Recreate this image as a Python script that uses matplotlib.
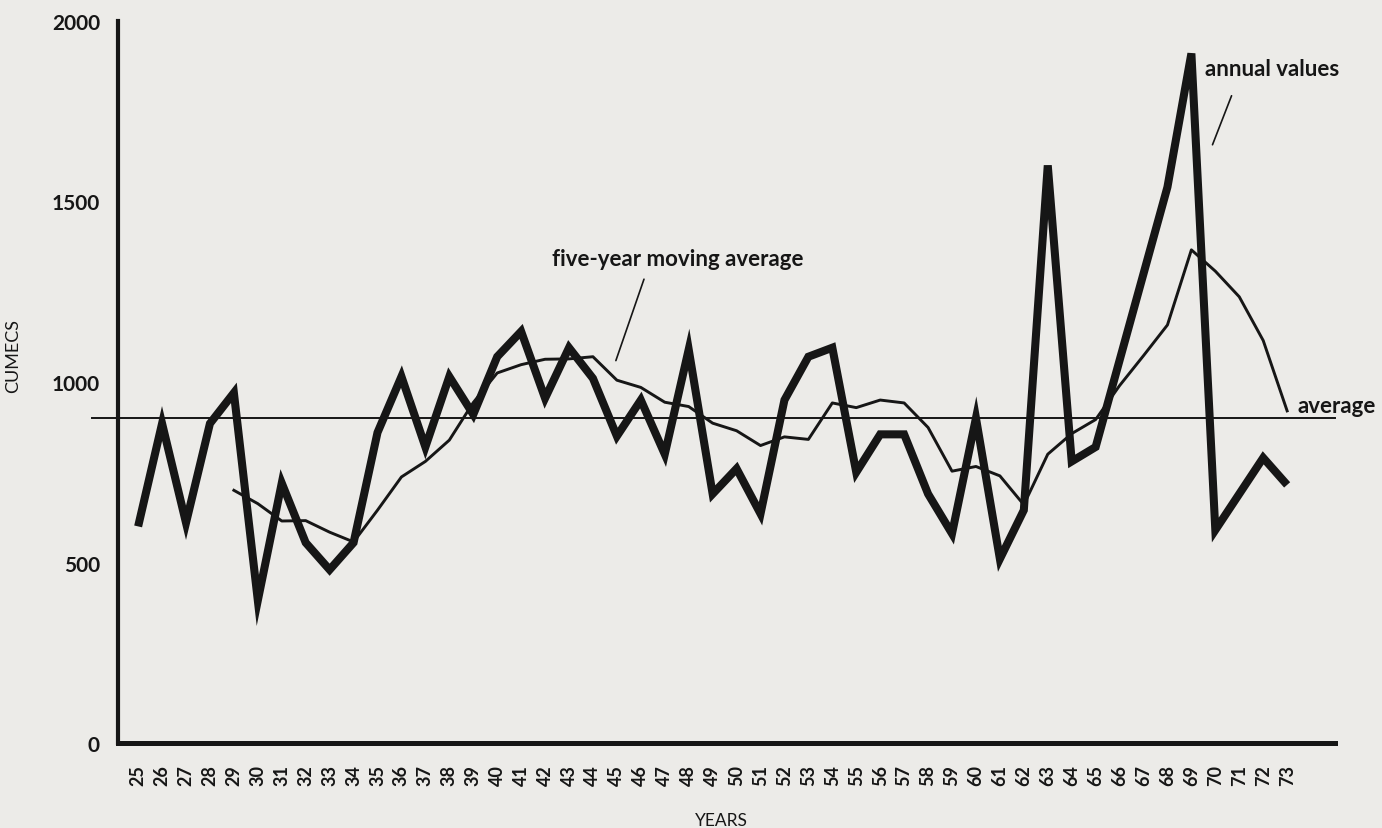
import numpy as np
import matplotlib
matplotlib.use("Agg")
import matplotlib.pyplot as plt

# Annual peak discharge (cumecs), years 1925-1973
years = list(range(25, 74))
annual = [600, 885, 610, 885, 970, 395, 720, 555, 480, 555,
          860, 1015, 820, 1015, 910, 1070, 1140, 955, 1095, 1010,
          850, 950, 800, 1090, 690, 760, 635, 950, 1070, 1095,
          750, 855, 855, 690, 580, 900, 510, 645, 1600, 780,
          820, 1060, 1300, 1540, 1910, 590, 690, 790, 715]

# five-year moving average, plotted from 1929
ma_years = list(range(29, 74))
moving_avg = [700, 663, 615, 616, 584, 557, 645, 737, 780, 839,
              943, 1025, 1048, 1063, 1064, 1070, 1005, 985, 944, 932,
              886, 865, 824, 848, 841, 942, 929, 950, 942, 874,
              753, 766, 740, 660, 800, 857, 896, 990, 1073, 1158,
              1366, 1307, 1236, 1115, 920]

overall_avg = 900
y_ticks = [0, 500, 1000, 1500, 2000]

ink = "#161616"
paper = "#ecebe8"
font = ["Lato", "DejaVu Sans"]

fig = plt.figure(figsize=(13.82, 8.29), dpi=100, facecolor=paper)
ax = fig.add_axes([0.0854, 0.1025, 0.8806, 0.871])
ax.set_facecolor(paper)

ax.plot(years, annual, color=ink, lw=5.8, solid_joinstyle="miter",
        solid_capstyle="butt", zorder=3)
ax.plot(ma_years, moving_avg, color=ink, lw=2.1, zorder=4)
ax.axhline(overall_avg, xmin=-0.021, xmax=1.0, color=ink, lw=1.4,
           clip_on=False, zorder=2)

ax.set_xlim(24.16, 75.0)
ax.set_ylim(0, 2000)

for side in ["top", "right"]:
    ax.spines[side].set_visible(False)
ax.spines["left"].set_linewidth(3.0)
ax.spines["bottom"].set_linewidth(3.6)
ax.spines["left"].set_color(ink)
ax.spines["bottom"].set_color(ink)

ax.set_xticks(years)
ax.set_xticklabels([str(y) for y in years], rotation=90,
                   fontsize=13, fontweight="bold", family=font, color=ink)
ax.set_yticks(y_ticks)
ax.set_yticklabels([str(v) for v in y_ticks], fontsize=15,
                   fontweight="bold", family=font, color=ink)
ax.tick_params(axis="both", length=0)
ax.tick_params(axis="y", pad=13)
ax.tick_params(axis="x", pad=15)

ax.set_ylabel("CUMECS", fontsize=13, family=font, color=ink)
ax.yaxis.set_label_coords(-0.08, 0.537)
ax.set_xlabel("YEARS", fontsize=12.5, family=font, color=ink)
ax.xaxis.set_label_coords(0.496, -0.095)

# annotations
ax.text(42.3, 1342, "five-year moving average", fontsize=16,
        fontweight="bold", family=font, color=ink, va="center", ha="left")
ax.annotate("", xy=(44.92, 1052), xytext=(46.17, 1292),
            arrowprops=dict(arrowstyle="-", color=ink, lw=1.2))

ax.text(69.55, 1868, "annual values", fontsize=16, fontweight="bold",
        family=font, color=ink, va="center", ha="left")
ax.annotate("", xy=(69.84, 1650), xytext=(70.72, 1800),
            arrowprops=dict(arrowstyle="-", color=ink, lw=1.2))

ax.text(73.43, 934, "average", fontsize=16, fontweight="bold",
        family=font, color=ink, va="center", ha="left")

fig.savefig("out.png", dpi=100, facecolor=paper)
